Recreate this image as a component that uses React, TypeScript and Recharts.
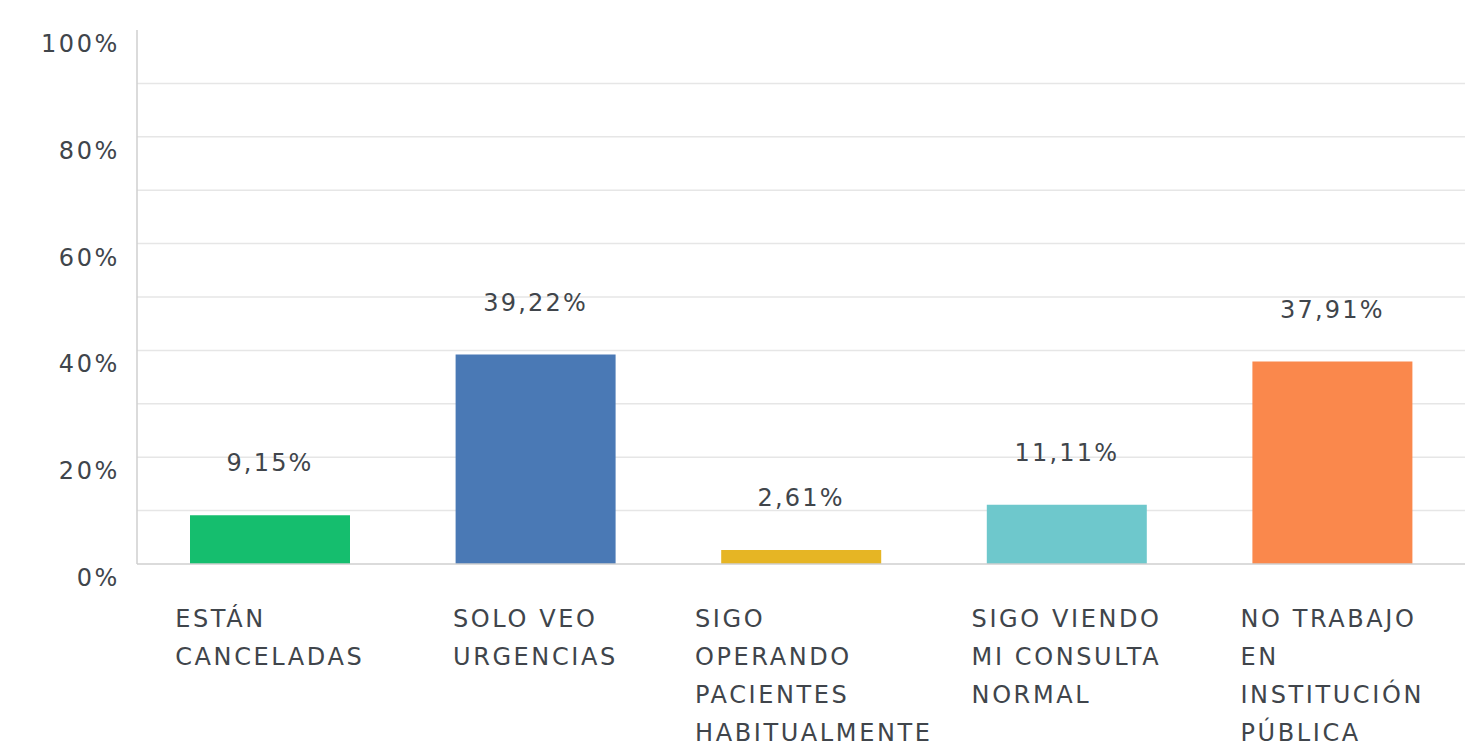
import React from 'react';
import { BarChart, Bar, XAxis, YAxis, CartesianGrid, Cell, LabelList } from 'recharts';

const categories = ['ESTÁN CANCELADAS', 'SOLO VEO URGENCIAS', 'SIGO OPERANDO PACIENTES HABITUALMENTE', 'SIGO VIENDO MI CONSULTA NORMAL', 'NO TRABAJO EN INSTITUCIÓN PÚBLICA'];
const categoryLines = [
  ['ESTÁN', 'CANCELADAS'],
  ['SOLO VEO', 'URGENCIAS'],
  ['SIGO', 'OPERANDO', 'PACIENTES', 'HABITUALMENTE'],
  ['SIGO VIENDO', 'MI CONSULTA', 'NORMAL'],
  ['NO TRABAJO', 'EN', 'INSTITUCIÓN', 'PÚBLICA'],
];
const values = [9.15, 39.22, 2.61, 11.11, 37.91];
const colors = ['#15be6e', '#4a79b5', '#e6b524', '#6ec8cc', '#fa884c'];
const yTicks = [0, 20, 40, 60, 80, 100];
const gridValues = [10, 20, 30, 40, 50, 60, 70, 80, 90];

const data = categories.map((name, i) => ({ name, value: values[i], idx: i }));

const FONT = "'DejaVu Sans', sans-serif";
const FS = 24;
const LS = 2.6;
const TEXT = '#40454b';

let ctx: CanvasRenderingContext2D | null = null;
function measure(s: string): number {
  if (!ctx) {
    const c = document.createElement('canvas');
    ctx = c.getContext('2d');
  }
  if (!ctx) return s.length * FS * 0.65;
  ctx.font = `${FS}px 'DejaVu Sans'`;
  return ctx.measureText(s).width + LS * s.length;
}

const fmt = (v: number) => v.toFixed(2).replace('.', ',') + '%';

const XTick = (props: any) => {
  const { x, y, payload } = props;
  const i = categories.indexOf(payload.value);
  const lines = categoryLines[i] || [payload.value];
  const maxW = Math.max(...lines.map(measure));
  const blockW = Math.min(maxW, 212);
  const sx = x - blockW / 2;
  return (
    <g>
      {lines.map((l, k) => (
        <text key={k} x={sx} y={y + 55 + k * 38} textAnchor="start" fill={TEXT} fontSize={FS} fontFamily={FONT} letterSpacing={LS}>
          {l}
        </text>
      ))}
    </g>
  );
};

const YTick = (props: any) => {
  const { y, payload } = props;
  return (
    <text x={112} y={y + 22} textAnchor="end" fill={TEXT} fontSize={FS} fontFamily={FONT} letterSpacing={LS}>
      {payload.value + '%'}
    </text>
  );
};

const ValueLabel = (props: any) => {
  const { x, y, width, value } = props;
  return (
    <text x={x + width / 2} y={y - 44} textAnchor="middle" fill={TEXT} fontSize={FS} fontFamily={FONT} letterSpacing={2.2}>
      {fmt(value)}
    </text>
  );
};

export default function App() {
  return (
    <div style={{ width: 1472, height: 740, background: '#fff' }}>
      <BarChart width={1472} height={740} data={data} margin={{ top: 22, right: 15, bottom: 0, left: 0 }}>
        <CartesianGrid vertical={false} horizontalValues={gridValues} stroke="#e6e6e6" strokeWidth={1.5} />
        <XAxis dataKey="name" axisLine={{ stroke: '#cfcfcf', strokeWidth: 1.5 }} tickLine={false} tick={<XTick />} interval={0} height={184} />
        <YAxis width={129} domain={[0, 100]} ticks={yTicks} axisLine={{ stroke: '#cfcfcf', strokeWidth: 1.5 }} tickLine={false} tick={<YTick />} />
        <Bar dataKey="value" barSize={160} isAnimationActive={false}>
          {data.map((d, i) => (
            <Cell key={i} fill={colors[i]} />
          ))}
          <LabelList dataKey="value" content={<ValueLabel />} />
        </Bar>
      </BarChart>
    </div>
  );
}
